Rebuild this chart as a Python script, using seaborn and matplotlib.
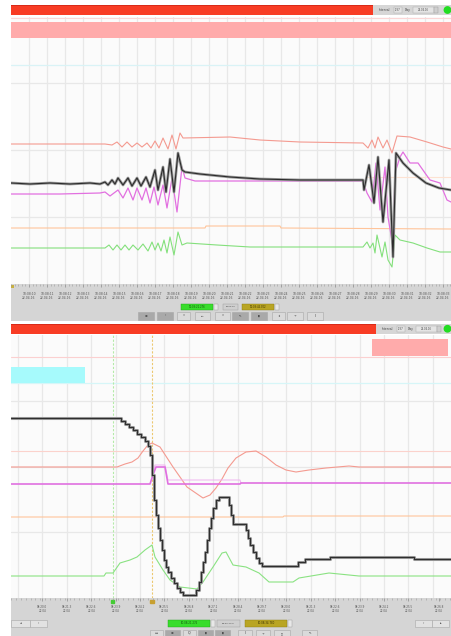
import numpy as np
import matplotlib
matplotlib.use("Agg")
import matplotlib.pyplot as plt
from matplotlib.patches import Rectangle, Circle
import seaborn as sns

sns.set_style("white")
plt.rcParams["font.family"] = ["DejaVu Sans"]

# ---------------- upper recording (sample index vs. signal level) ----------------
top_black_x = [0, 19, 39, 59, 79, 89, 94, 97, 101, 104, 107, 112, 117, 121, 126, 130, 135, 139, 144, 147,
               152, 155, 159, 163, 167, 171, 174, 189, 219, 249, 289, 329, 352, 353, 358, 363, 367, 372,
               378, 382, 385, 392, 402, 415, 428, 440]
top_black_y = [101, 100, 101, 100, 101, 100, 102, 99, 104, 100, 106, 99, 106, 98, 106, 98, 107, 97, 114, 94,
               117, 92, 125, 92, 131, 114, 112, 110, 107, 105, 104, 104, 104, 94, 119, 81, 127, 62,
               124, 27, 131, 121, 111, 101, 96, 94]

top_mag_x = [0, 49, 89, 94, 99, 107, 112, 117, 122, 126, 131, 135, 139, 143, 147, 152, 156, 161, 166, 171,
             174, 184, 219, 352, 356, 361, 365, 369, 374, 377, 382, 384, 389, 392, 399, 407, 414, 419,
             429, 436, 440]
top_mag_y = [90, 90, 91, 92, 88, 94, 86, 96, 84, 96, 84, 96, 81, 97, 79, 99, 76, 106, 72, 117,
             106, 103, 103, 103, 91, 82, 121, 74, 117, 67, 37, 111, 127, 132, 121, 121, 111, 104,
             101, 84, 82]

top_red_x = [0, 94, 101, 106, 111, 116, 121, 126, 131, 136, 140, 144, 148, 152, 157, 161, 165, 169, 172,
             219, 249, 289, 352, 357, 361, 364, 367, 372, 376, 381, 386, 399, 416, 432, 440]
top_red_y = [140, 140, 139, 142, 137, 142, 137, 141, 137, 141, 136, 143, 136, 146, 135, 149, 135, 151, 146,
             147, 144, 142, 141, 136, 144, 136, 147, 136, 144, 131, 148, 147, 142, 137, 135]

top_orange_x = [0, 194, 195, 269, 270, 440]
top_orange_y = [56, 56, 58, 58, 56, 55]

top_green_x = [0, 94, 98, 102, 106, 110, 114, 118, 122, 127, 132, 137, 141, 144, 147, 150, 153, 156, 159,
               163, 167, 171, 176, 206, 239, 352, 356, 359, 362, 364, 366, 371, 374, 377, 381, 384, 389,
               402, 416, 429, 440]
top_green_y = [36, 36, 39, 34, 39, 34, 39, 34, 39, 34, 40, 33, 42, 34, 41, 33, 44, 31, 47,
               29, 52, 39, 41, 39, 37, 37, 42, 36, 41, 31, 49, 27, 42, 24, 17, 49, 44,
               41, 36, 32, 32]

top_band = (246, 262)          # alarm band
top_cyan_level = 219
top_limit_level = 107
top_limit_span = (355, 440)

# ---------------- lower recording ----------------
bot_black_x = [0, 110, 114, 118, 122, 126, 130, 134, 137, 139, 141, 143, 145, 147, 149, 151, 153, 155, 157,
               160, 163, 166, 169, 172, 185, 188, 190, 192, 194, 196, 198, 200, 202, 205, 208, 218, 220,
               222, 235, 237, 239, 242, 245, 248, 251, 287, 294, 319, 403, 440]
bot_black_y = [180, 177, 174, 171, 168, 164, 161, 157, 152, 143, 123, 98, 83, 70, 58, 48, 38, 31, 26,
               20, 15, 10, 6, 3, 8, 16, 26, 36, 46, 58, 70, 80, 90, 98, 101, 93, 83,
               74, 68, 60, 53, 46, 40, 35, 32, 36, 39, 41, 39, 39]

bot_red_x = [0, 106, 114, 121, 127, 132, 137, 141, 149, 162, 176, 192, 199, 205, 211, 217, 225, 235, 245,
             255, 265, 275, 285, 298, 315, 338, 348, 440]
bot_red_y = [131, 131, 134, 136, 140, 147, 153, 155, 151, 131, 111, 100, 103, 110, 119, 130, 140, 146, 147,
             141, 133, 128, 126, 128, 130, 132, 131, 131]

bot_mag_x = [0, 139, 142, 145, 154, 157, 229, 230, 440]
bot_mag_y = [114, 114, 123, 131, 131, 114, 114, 115, 115]
bot_mag2_x = [141, 144, 154, 157, 229, 230]
bot_mag2_y = [120, 133, 133, 118, 118, 115]

bot_orange_x = [0, 272, 273, 440]
bot_orange_y = [81, 81, 82, 82]

bot_green_x = [0, 93, 95, 102, 109, 119, 126, 134, 141, 144, 152, 159, 169, 186, 192, 202, 211, 215, 222,
               235, 248, 258, 282, 288, 318, 348, 440]
bot_green_y = [22, 22, 25, 25, 35, 38, 41, 48, 53, 41, 28, 18, 11, 9, 16, 31, 45, 46, 33,
               31, 25, 16, 16, 20, 25, 22, 22]

bot_pink_box = (361, 437, 242, 259)
bot_cyan_box = (0, 74, 215, 231)
bot_pink_level = 241
bot_cyan_level = 215
bot_red_level = 147
bot_cursor_green = 102
bot_cursor_orange = 141

top_tick_labels = [f"10:08:{s:02d}\n22.04.16" for s in range(10, 34)]
bot_tick_labels = [f"08:2{i % 10}.{(i * 3) % 10}\n22.04" for i in range(17)]

# ---------------- figure & chrome ----------------
W, H = 452, 636
fig = plt.figure(figsize=(W / 100, H / 100), dpi=100)
fig.patch.set_facecolor("white")

bg = fig.add_axes([0, 0, 1, 1], zorder=-10)
bg.set_xlim(0, W)
bg.set_ylim(H, 0)
bg.axis("off")


def box(x0, y0, x1, y1, fc, ec="none", lw=0.4, z=1):
    bg.add_patch(Rectangle((x0, y0), x1 - x0, y1 - y0, facecolor=fc, edgecolor=ec, linewidth=lw, zorder=z))


def tiny(x, y, s, size=2.2, color="#444", ha="center"):
    bg.text(x, y, s, fontsize=size, color=color, ha=ha, va="center", zorder=5)


def header(y0, y1, x_split):
    box(11, y0, x_split, y1, "#f83c24")
    box(11, y0, x_split, y0 + 1.2, "#d82a18", z=2)
    box(x_split, y0, W, y1, "#d6d6d6")
    tiny(x_split + 12, (y0 + y1) / 2, "Interval", 2.2)
    box(x_split + 21, y0 + 2, x_split + 29, y1 - 2, "#e4e4e4", "#aaa", 0.3)
    tiny(x_split + 25, (y0 + y1) / 2, "1/37", 1.8)
    tiny(x_split + 35, (y0 + y1) / 2, "Day", 2.2)
    box(x_split + 40, y0 + 2, x_split + 61, y1 - 2, "#e4e4e4", "#aaa", 0.3)
    tiny(x_split + 50, (y0 + y1) / 2, "22.04.16", 1.8)
    box(x_split + 61, y0 + 2, x_split + 65, y1 - 2, "#cfcfcf", "#999", 0.3)
    bg.add_patch(Circle((W - 4.5, (y0 + y1) / 2), 3.2, color="#22dd22", zorder=3))


def strip(y0, y1):
    box(11, y0, W, y1, "#d5d5d5")


def btn(x0, x1, y0, y1, fc="#e0e0e0", label=""):
    box(x0, y0, x1, y1, fc, "#a8a8a8", 0.4, z=3)
    if label:
        tiny((x0 + x1) / 2, (y0 + y1) / 2, label, 2.4, "#333")


# upper chrome
header(5, 15, 373)
strip(284, 321)
box(181, 304, 213, 309.5, "#38dd2c", "#22a01a", 0.3, z=3)
tiny(197, 306.8, "10:08:21.276", 1.8, "#135010")
box(214, 304, 218, 309.5, "#e8e8e8", "#999", 0.3, z=3)
box(223, 304, 238, 309.5, "#cfcfcf", "#999", 0.3, z=3)
tiny(230.5, 306.8, "00:00:25", 1.6)
box(242, 304, 274, 309.5, "#b9a523", "#8a7a10", 0.3, z=3)
tiny(258, 306.8, "10:08:46.302", 1.8, "#3a3000")
box(275, 304, 279, 309.5, "#e8e8e8", "#999", 0.3, z=3)
for x0, x1, fc, lab in [(138, 154, "#a9a9a9", "⊕"), (157, 173, "#a9a9a9", "‹"), (177, 190, "#dadada", "«"),
                        (195, 210, "#dadada", "⇤"), (215, 230, "#dadada", "»"), (232, 248, "#a9a9a9", "↖"),
                        (251, 267, "#a9a9a9", "▮"), (272, 285, "#dadada", "↕"), (287, 303, "#dadada", "÷"),
                        (307, 323, "#dadada", "I")]:
    btn(x0, x1, 311.5, 320, fc, lab)
box(11, 284.5, 14, 288, "#c8b040", z=4)

# lower chrome
header(324, 333.5, 376)
strip(598, H)
bg.add_patch(Rectangle((111, 599.5), 3.5, 3.5, color="#44cc33", zorder=4))
bg.add_patch(Rectangle((150.5, 599.5), 3.5, 3.5, color="#c8a030", zorder=4))
btn(11, 30, 619.5, 627, "#e2e2e2", "◂")
btn(30, 47, 619.5, 627, "#e2e2e2", "‹")
btn(415, 432, 619.5, 627, "#e2e2e2", "›")
btn(432, 449, 619.5, 627, "#e2e2e2", "▸")
box(168, 620, 210, 627, "#38dd2c", "#22a01a", 0.3, z=3)
tiny(189, 623.5, "10:08:21.276", 1.9, "#135010")
box(211, 620, 215, 627, "#e8e8e8", "#999", 0.3, z=3)
box(217, 620, 240, 627, "#cfcfcf", "#999", 0.3, z=3)
tiny(228.5, 623.5, "00:00:13.5", 1.7)
box(245, 620, 287, 627, "#b9a523", "#8a7a10", 0.3, z=3)
tiny(266, 623.5, "10:08:34.780", 1.9, "#3a3000")
box(288, 620, 292, 627, "#e8e8e8", "#999", 0.3, z=3)
for x0, x1, fc, lab in [(150, 163, "#dadada", "▭"), (165, 180, "#a9a9a9", "⊕"), (183, 196, "#dadada", "Q"),
                        (198, 213, "#a9a9a9", "▮"), (215, 230, "#a9a9a9", "▮"), (238, 252, "#dadada", "I"),
                        (256, 270, "#dadada", "÷"), (274, 290, "#dadada", "▯"), (302, 317, "#dadada", "↖")]:
    btn(x0, x1, 629.5, 636.5, fc, lab)

GRID = "#e8e8e8"


def frame(rect_px, xlim, ylim, xgrid, ygrid):
    x0, y0, x1, y1 = rect_px
    ax = fig.add_axes([x0 / W, 1 - y1 / H, (x1 - x0) / W, (y1 - y0) / H], zorder=1)
    ax.set_facecolor("#fbfbfb")
    ax.set_xlim(*xlim)
    ax.set_ylim(*ylim)
    for s in ax.spines.values():
        s.set_visible(False)
    ax.set_yticks([])
    for gx in xgrid:
        ax.axvline(gx, color=GRID, lw=0.9, zorder=0)
    for gy in ygrid:
        ax.axhline(gy, color=GRID, lw=0.9, zorder=0)
    return ax


def trace(ax, x, y, color, lw, **kw):
    sns.lineplot(x=x, y=y, ax=ax, color=color, linewidth=lw, estimator=None, sort=False, legend=False, **kw)


# ---------------- upper panel ----------------
top_grid_x = np.arange(18, 433, 18)
axT = frame((11, 17, 451, 284), (0, 440), (0, 267), top_grid_x, [67, 134, 201])
axT.axhspan(*top_band, color="#ffabab", lw=0, zorder=0.5)
axT.axhline(266, color="#fbd6d6", lw=0.8, zorder=0.5)
axT.axhline(top_cyan_level, color="#d9f3f6", lw=0.9, zorder=0.5)
axT.hlines(top_limit_level, *top_limit_span, color="#fde2d2", lw=0.8, zorder=0.5)

trace(axT, top_orange_x, top_orange_y, "#ffc49a", 0.8)
trace(axT, top_green_x, top_green_y, "#84e07c", 0.8)
trace(axT, top_red_x, top_red_y, "#f49a90", 0.8)
trace(axT, top_mag_x, top_mag_y, "#e270e0", 0.9)
trace(axT, top_black_x, top_black_y, "#9c9c9c", 2.0)
trace(axT, top_black_x, top_black_y, "#2c2c2c", 0.8)

axT.set_xticks(top_grid_x)
axT.set_xticklabels(top_tick_labels, linespacing=1.0)
axT.set_xticks(np.arange(0, 440, 3.6), minor=True)
axT.tick_params(axis="x", which="major", direction="out", length=2.4, width=0.5, color="#8a8a8a",
                labelsize=2.2, labelcolor="#555", pad=3.2, bottom=True)
axT.tick_params(axis="x", which="minor", direction="out", length=1.2, width=0.4, color="#9a9a9a", bottom=True)
axT.set_xlabel("")
axT.set_ylabel("")

# ---------------- lower panel ----------------
bot_grid_x = 7 + 24.4 * np.arange(18)
axB = frame((11, 335, 451, 598), (0, 440), (0, 263), bot_grid_x, [65.75, 131.5, 197.25])
px0, px1, py0, py1 = bot_pink_box
axB.add_patch(Rectangle((px0, py0), px1 - px0, py1 - py0, color="#ffabab", lw=0, zorder=0.6))
cx0, cx1, cy0, cy1 = bot_cyan_box
axB.add_patch(Rectangle((cx0, cy0), cx1 - cx0, cy1 - cy0, color="#a6fafc", lw=0, zorder=0.6))
axB.axhline(bot_pink_level, color="#fbd0d0", lw=0.8, zorder=0.5)
axB.axhline(bot_cyan_level, color="#d6f6f8", lw=0.9, zorder=0.5)
axB.axhline(bot_red_level, color="#fbd2cc", lw=0.8, zorder=0.5)
axB.axvline(bot_cursor_green, color="#b4eaa8", lw=0.8, ls=(0, (2, 1.5)), zorder=0.7)
axB.axvline(bot_cursor_orange, color="#ecc870", lw=0.8, ls=(0, (2, 1.5)), zorder=0.7)

trace(axB, bot_orange_x, bot_orange_y, "#ffc49a", 0.8)
trace(axB, bot_green_x, bot_green_y, "#8ae282", 0.8)
trace(axB, bot_red_x, bot_red_y, "#f49a90", 0.8)
trace(axB, bot_mag2_x, bot_mag2_y, "#f0b4f0", 0.7)
trace(axB, bot_mag_x, bot_mag_y, "#e070e0", 1.2)
trace(axB, bot_black_x, bot_black_y, "#9a9a9a", 2.2, drawstyle="steps-post")
trace(axB, bot_black_x, bot_black_y, "#2e2e2e", 0.8, drawstyle="steps-post")

bot_ticks = list(bot_grid_x[1:17]) + [428]
axB.set_xticks(bot_ticks)
axB.set_xticklabels(bot_tick_labels, linespacing=1.0)
axB.set_xticks(np.arange(0, 440, 4.88), minor=True)
axB.tick_params(axis="x", which="major", direction="out", length=2.2, width=0.5, color="#8a8a8a",
                labelsize=2.0, labelcolor="#555", pad=3.0, bottom=True)
axB.tick_params(axis="x", which="minor", direction="out", length=1.2, width=0.4, color="#9a9a9a", bottom=True)
axB.set_xlabel("")
axB.set_ylabel("")

fig.savefig("out.png", dpi=100)
